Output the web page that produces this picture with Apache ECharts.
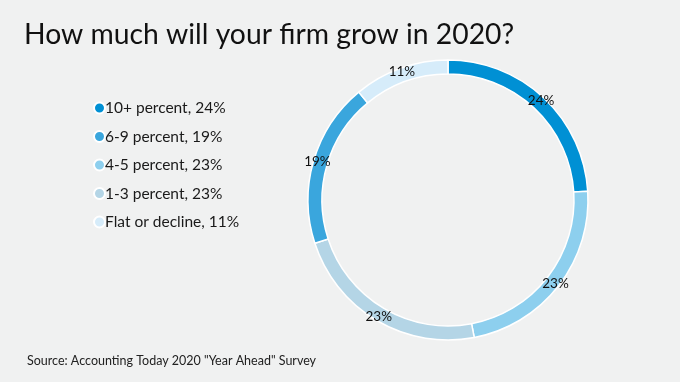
<!DOCTYPE html>
<html>
<head>
<meta charset="utf-8">
<script src="https://cdn.jsdelivr.net/npm/echarts@6/dist/echarts.min.js"></script>
<style>html,body{margin:0;padding:0;background:#f0f1f1;}#c{width:680px;height:382px;}</style>
</head>
<body>
<div id="c"></div>
<script>
const titleText = 'How much will your firm grow in 2020?';
const sourceText = 'Source: Accounting Today 2020 "Year Ahead" Survey';
// pie order (clockwise from top)
const categories = ['10+ percent', '4-5 percent', '1-3 percent', '6-9 percent', 'Flat or decline'];
const values = [24, 23, 23, 19, 11];
const colors = ['#0090d4', '#8dcfee', '#b4d5e6', '#3aa6dd', '#d6ecfa'];
// legend order
const legendOrder = ['10+ percent', '6-9 percent', '4-5 percent', '1-3 percent', 'Flat or decline'];

const font = 'Lato, "Noto Sans", sans-serif';
const chart = echarts.init(document.getElementById('c'), null, {renderer: 'canvas'});
const valueOf = {};
categories.forEach((c, i) => valueOf[c] = values[i]);

chart.setOption({
  backgroundColor: '#f0f1f1',
  animation: false,
  title: [
    {text: titleText, left: 19, top: 16, textStyle: {fontFamily: font, fontSize: 28.3, fontWeight: 'normal', color: '#111'}},
    {text: sourceText, left: 22, top: 349, textStyle: {fontFamily: font, fontSize: 12.5, fontWeight: 'normal', color: '#222'}}
  ],
  legend: {
    orient: 'vertical',
    left: 88,
    top: 95,
    itemWidth: 11,
    itemHeight: 11,
    itemGap: 12.5,
    icon: 'circle',
    data: legendOrder,
    formatter: name => name + ', ' + valueOf[name] + '%',
    textStyle: {fontFamily: font, fontSize: 15.5, color: '#1a1a1a', padding: [0, 0, 0, -5]}
  },
  series: [{
    type: 'pie',
    center: [448, 200],
    radius: [126, 140],
    startAngle: 90,
    clockwise: true,
    avoidLabelOverlap: false,
    itemStyle: {borderColor: '#ffffff', borderWidth: 1.5},
    label: {
      position: 'inside',
      formatter: p => p.value + '%',
      fontFamily: font,
      fontSize: 13.5,
      color: '#111'
    },
    labelLine: {show: false},
    emphasis: {disabled: true},
    data: categories.map((c, i) => ({name: c, value: values[i], itemStyle: {color: colors[i]}}))
  }]
});
</script>
</body>
</html>
